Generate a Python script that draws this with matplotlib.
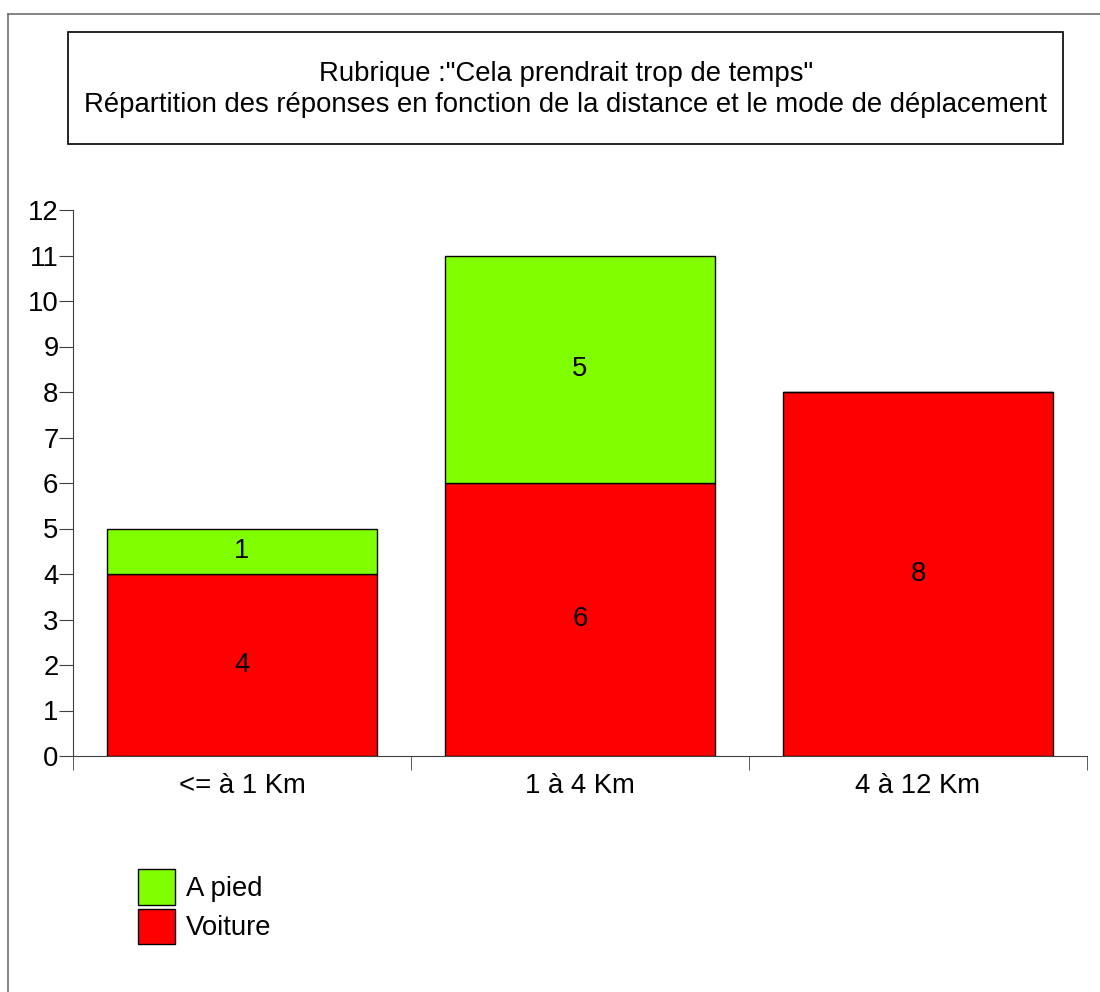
import numpy as np
import matplotlib.pyplot as plt
from matplotlib.patches import Rectangle
from matplotlib.lines import Line2D

plt.rc('font', family=['Liberation Sans', 'DejaVu Sans'])

categories = ['<= à 1 Km', '1 à 4 Km', '4 à 12 Km']
voiture = [4, 6, 8]
a_pied = [1, 5, 0]
yticks = list(range(0, 13))

W, H = 1100, 992
fs = 19.8
fig = plt.figure(figsize=(11, 9.92), dpi=100)

# cadre de la figure (haut + gauche)
fig.add_artist(Line2D([8 / W, 1], [1 - 14 / H, 1 - 14 / H], color='#707070', lw=1.2))
fig.add_artist(Line2D([8 / W, 8 / W], [0, 1 - 14 / H], color='#707070', lw=1.2))

# boite du titre
fig.add_artist(Rectangle((68 / W, 1 - 144 / H), (1063 - 68) / W, (144 - 32) / H,
                         fill=False, edgecolor='black', lw=1.2))
fig.text(566 / W, 1 - 74 / H, 'Rubrique :"Cela prendrait trop de temps"',
         ha='center', va='center', fontsize=fs)
fig.text(566 / W, 1 - 105 / H, 'Répartition des réponses en fonction de la distance et le mode de déplacement',
         ha='center', va='center', fontsize=fs)

ax = fig.add_axes([73 / W, 1 - 756 / H, (1087 - 73) / W, (756 - 210) / H])
x = np.arange(len(categories))
bw = 0.8
b1 = ax.bar(x, voiture, bw, color='#FF0000', edgecolor='black', lw=1, label='Voiture')
b2 = ax.bar(x, a_pied, bw, bottom=voiture, color='#80FF00', edgecolor='black', lw=1, label='A pied')

for i in range(len(categories)):
    if voiture[i] > 0:
        ax.text(x[i], voiture[i] / 2, str(voiture[i]), ha='center', va='center', fontsize=fs)
    if a_pied[i] > 0:
        ax.text(x[i], voiture[i] + a_pied[i] / 2, str(a_pied[i]), ha='center', va='center', fontsize=fs)

ax.set_xlim(-0.5, len(categories) - 0.5)
ax.set_ylim(0, 12)
ax.set_yticks(yticks)
ax.set_xticks(x)
ax.set_xticklabels(categories, fontsize=fs)
ax.tick_params(axis='x', length=0, pad=12)
ax.set_xticks(np.arange(len(categories) + 1) - 0.5, minor=True)
ax.tick_params(axis='x', which='minor', length=10, direction='out', color='#404040')
ax.tick_params(axis='y', length=10, direction='out', labelsize=fs, pad=0.5, color='#404040')
ax.spines['top'].set_visible(False)
ax.spines['right'].set_visible(False)
ax.spines['left'].set_color('#404040')
ax.spines['bottom'].set_color('#404040')

fig.legend([b2, b1], ['A pied', 'Voiture'], loc='upper left',
           bbox_to_anchor=(138 / W, 1 - 869 / H), frameon=False, fontsize=fs,
           borderpad=0, borderaxespad=0, handlelength=1.34, handleheight=1.62,
           labelspacing=0.14, handletextpad=0.4)

plt.savefig('out.png', dpi=100)
